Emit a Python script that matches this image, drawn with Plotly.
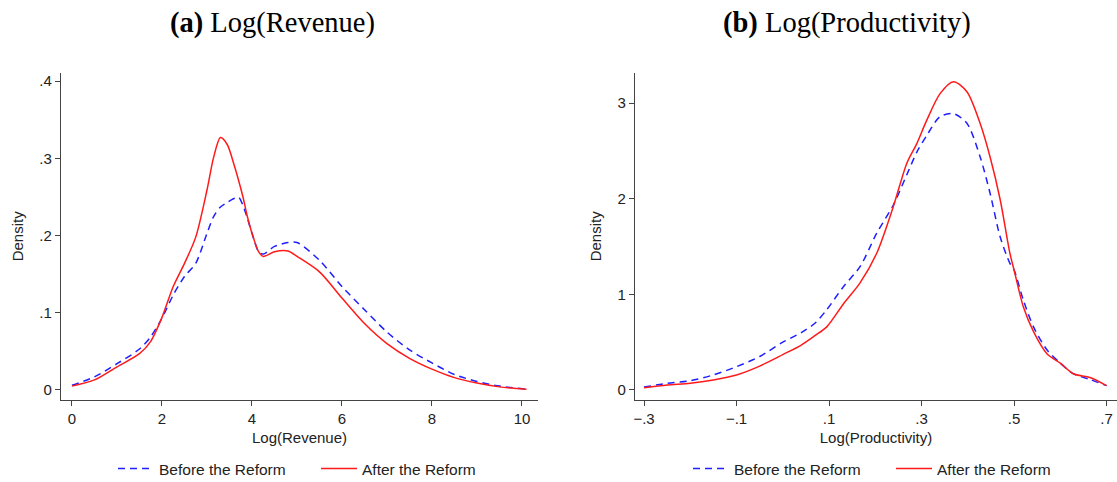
import plotly.graph_objects as go

# ---- Panel (a): Log(Revenue) ----
rev_x = [0, 0.5, 1, 1.5, 1.75, 2, 2.25, 2.5, 2.75, 3.0, 3.15, 3.3, 3.45, 3.6, 3.7, 3.8, 3.9, 4.0, 4.15,
         4.25, 4.5, 4.8, 5.0, 5.5, 6, 6.5, 7, 7.5, 8, 8.5, 9, 9.5, 10.1]
rev_before = [0.006, 0.017, 0.034, 0.053, 0.069, 0.093, 0.123, 0.147, 0.164, 0.203, 0.225, 0.237, 0.243,
              0.248, 0.250, 0.239, 0.222, 0.203, 0.179, 0.176, 0.186, 0.191, 0.191, 0.168, 0.134, 0.104,
              0.075, 0.052, 0.035, 0.020, 0.011, 0.005, 0.001]
rev_after = [0.005, 0.013, 0.030, 0.047, 0.063, 0.094, 0.134, 0.164, 0.198, 0.259, 0.302, 0.327, 0.318,
             0.292, 0.272, 0.250, 0.224, 0.203, 0.179, 0.173, 0.179, 0.180, 0.173, 0.153, 0.119, 0.086,
             0.060, 0.041, 0.027, 0.016, 0.009, 0.004, 0.001]
rev_yticks = [0, 0.1, 0.2, 0.3, 0.4]
rev_yticktext = ["0", ".1", ".2", ".3", ".4"]
rev_xticks = [0, 2, 4, 6, 8, 10]

# ---- Panel (b): Log(Productivity) ----
prod_x = [-0.3, -0.25, -0.2, -0.15, -0.1, -0.05, 0.0, 0.04, 0.07, 0.095, 0.131, 0.167, 0.203, 0.239,
          0.268, 0.29, 0.311, 0.34, 0.369, 0.398, 0.4265, 0.448, 0.47, 0.491, 0.5, 0.52, 0.542, 0.571,
          0.6, 0.628, 0.664, 0.7]
prod_before = [0.03, 0.07, 0.098, 0.157, 0.244, 0.35, 0.50, 0.60, 0.70, 0.84, 1.08, 1.29, 1.64, 1.935,
               2.25, 2.49, 2.66, 2.86, 2.89, 2.79, 2.44, 2.06, 1.60, 1.325, 1.255, 0.94, 0.66, 0.42,
               0.28, 0.17, 0.11, 0.045]
prod_after = [0.024, 0.052, 0.07, 0.105, 0.157, 0.25, 0.37, 0.47, 0.57, 0.66, 0.90, 1.12, 1.43, 1.92,
              2.37, 2.58, 2.82, 3.10, 3.225, 3.12, 2.79, 2.44, 1.99, 1.43, 1.255, 0.87, 0.61, 0.38,
              0.28, 0.17, 0.13, 0.045]
prod_yticks = [0, 1, 2, 3]
prod_xticks = [-0.3, -0.1, 0.1, 0.3, 0.5, 0.7]
prod_xticktext = ["\u2212.3", "\u2212.1", ".1", ".3", ".5", ".7"]

series_names = ["Before the Reform", "After the Reform"]
BLUE = "#1f1fff"
RED = "#ff1a1a"

fig = go.Figure()

line_before = dict(color=BLUE, width=1.5, dash="7px,5px", shape="spline", smoothing=0.8)
line_after = dict(color=RED, width=1.5, shape="spline", smoothing=0.8)

fig.add_trace(go.Scatter(x=rev_x, y=rev_before, mode="lines", name=series_names[0],
                         line=line_before, xaxis="x", yaxis="y", legend="legend"))
fig.add_trace(go.Scatter(x=rev_x, y=rev_after, mode="lines", name=series_names[1],
                         line=line_after, xaxis="x", yaxis="y", legend="legend"))
fig.add_trace(go.Scatter(x=prod_x, y=prod_before, mode="lines", name=series_names[0],
                         line=line_before, xaxis="x2", yaxis="y2", legend="legend2"))
fig.add_trace(go.Scatter(x=prod_x, y=prod_after, mode="lines", name=series_names[1],
                         line=line_after, xaxis="x2", yaxis="y2", legend="legend2"))

W, H = 1117, 482
MB = 20                     # bottom margin (px) to keep legend from pushing the plot area
PH = H - MB                 # plot-area height in px (top margin 0)


def fy(px):
    """paper fraction for a pixel row measured from the top of the page"""
    return (PH - px) / PH


axcol = "#444444"
FONT = "Liberation Sans, Arial, sans-serif"
tickfont = dict(family=FONT, size=15, color="#222222")
titlefont = dict(family=FONT, size=15, color="#222222")

common_axis = dict(showline=True, linecolor=axcol, linewidth=1.3, ticks="outside", ticklen=5,
                   tickcolor=axcol, tickwidth=1.3, showgrid=False, zeroline=False, tickfont=tickfont,
                   title_font=titlefont, automargin=False)

ydom = [fy(400), fy(72.7)]
legfont = dict(family=FONT, size=15.5, color="#222222")

fig.update_layout(
    width=W, height=H,
    margin=dict(l=0, r=0, t=0, b=MB, autoexpand=False),
    paper_bgcolor="white", plot_bgcolor="white",
    xaxis=dict(domain=[61 / W, 538 / W], range=[-0.244, 10.356], tickvals=rev_xticks,
               title=dict(text="Log(Revenue)", standoff=6), anchor="y", **common_axis),
    yaxis=dict(domain=ydom, range=[-0.013, 0.411], tickvals=rev_yticks, ticktext=rev_yticktext,
               title=dict(text="Density", standoff=12), anchor="x", **common_axis),
    xaxis2=dict(domain=[635 / W, 1.0], range=[-0.3195, 0.7225], tickvals=prod_xticks,
                ticktext=prod_xticktext, title=dict(text="Log(Productivity)", standoff=6),
                anchor="y2", **common_axis),
    yaxis2=dict(domain=ydom, range=[-0.105, 3.319], tickvals=prod_yticks,
                title=dict(text="Density", standoff=12), anchor="x2", **common_axis),
    legend=dict(orientation="h", x=113 / W, xanchor="left", y=fy(469), yanchor="middle",
                font=legfont, bgcolor="rgba(0,0,0,0)", itemwidth=36,
                entrywidth=152, entrywidthmode="pixels"),
    legend2=dict(orientation="h", x=688 / W, xanchor="left", y=fy(469), yanchor="middle",
                 font=legfont, bgcolor="rgba(0,0,0,0)", itemwidth=36,
                 entrywidth=152, entrywidthmode="pixels"),
    showlegend=True,
    annotations=[
        dict(text="<b>(a)</b> Log(Revenue)", x=272 / W, y=fy(23), xref="paper", yref="paper",
             showarrow=False, xanchor="center", yanchor="middle",
             font=dict(family="Liberation Serif, Times New Roman, serif", size=28.5, color="black")),
        dict(text="<b>(b)</b> Log(Productivity)", x=847 / W, y=fy(23), xref="paper", yref="paper",
             showarrow=False, xanchor="center", yanchor="middle",
             font=dict(family="Liberation Serif, Times New Roman, serif", size=28.5, color="black")),
    ],
)

fig.write_html("out.html")
